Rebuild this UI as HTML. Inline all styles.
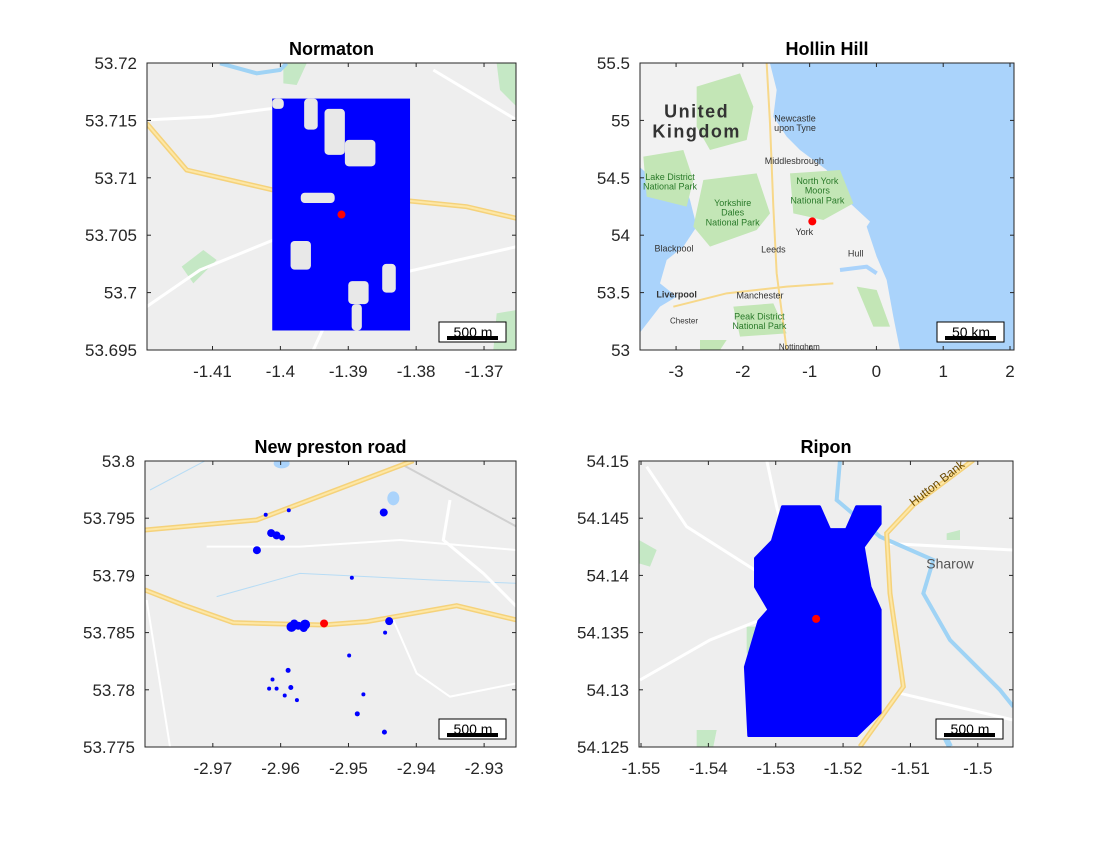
<!DOCTYPE html>
<html><head><meta charset="utf-8"><style>
body{margin:0;background:#fff;}
svg text{font-family:"Liberation Sans",sans-serif;}
</style></head><body>
<svg id="fig" width="1120" height="840" viewBox="0 0 1120 840" xmlns="http://www.w3.org/2000/svg">
<rect width="1120" height="840" fill="#fff"/>
</svg>
<script>
// ---------- data ----------
const normatonXTicks=[-1.41,-1.40,-1.39,-1.38,-1.37];
const normatonXLabels=["-1.41","-1.4","-1.39","-1.38","-1.37"];
const normatonYTicks=[53.695,53.70,53.705,53.71,53.715,53.72];
const normatonYLabels=["53.695","53.7","53.705","53.71","53.715","53.72"];
const normatonArea=[-1.4012,-1.3809,53.6967,53.7169];
const normatonHoles=[[-1.3935,-1.3905,53.7120,53.7160],[-1.3905,-1.3860,53.7110,53.7133],[-1.3985,-1.3955,53.7020,53.7045],[-1.3900,-1.3870,53.6990,53.7010],[-1.3895,-1.3880,53.6967,53.6990],[-1.3850,-1.3830,53.7000,53.7025],[-1.3970,-1.3920,53.7078,53.7087],[-1.3965,-1.3945,53.7142,53.7169],[-1.4012,-1.3995,53.7160,53.7169]];
const normatonSite=[-1.391,53.7068];

const hollinXTicks=[-3,-2,-1,0,1,2];
const hollinXLabels=["-3","-2","-1","0","1","2"];
const hollinYTicks=[53,53.5,54,54.5,55,55.5];
const hollinYLabels=["53","53.5","54","54.5","55","55.5"];
const hollinSite=[-0.96,54.12];

const prestonXTicks=[-2.97,-2.96,-2.95,-2.94,-2.93];
const prestonXLabels=["-2.97","-2.96","-2.95","-2.94","-2.93"];
const prestonYTicks=[53.775,53.78,53.785,53.79,53.795,53.80];
const prestonYLabels=["53.775","53.78","53.785","53.79","53.795","53.8"];
const prestonLon=[-2.9584,-2.9564,-2.9606,-2.9635,-2.9448,-2.9622,-2.9588,-2.9440,-2.9495,-2.9589,-2.9612,-2.9617,-2.9606,-2.9585,-2.9594,-2.9576,-2.9499,-2.9478,-2.9487,-2.9447,-2.9446,-2.9614,-2.9574,-2.9598,-2.9580,-2.9566];
const prestonLat=[53.7855,53.7857,53.7935,53.7922,53.7955,53.7953,53.7957,53.7860,53.7898,53.7817,53.7809,53.7801,53.7801,53.7802,53.7795,53.7791,53.7830,53.7796,53.7779,53.7763,53.7850,53.7937,53.7856,53.7933,53.7858,53.7854];
const prestonSize=[5,5,4,4,4,2,2,4,2,2.5,2,2,2,2.5,2,2,2,2,2.5,2.5,2,4,4,3,4,4];
const prestonSite=[-2.9536,53.7858];

const riponXTicks=[-1.55,-1.54,-1.53,-1.52,-1.51,-1.50];
const riponXLabels=["-1.55","-1.54","-1.53","-1.52","-1.51","-1.5"];
const riponYTicks=[54.125,54.13,54.135,54.14,54.145,54.15];
const riponYLabels=["54.125","54.13","54.135","54.14","54.145","54.15"];
const riponLon=[-1.5340,-1.5180,-1.5145,-1.5145,-1.5160,-1.5170,-1.5145,-1.5145,-1.5180,-1.5195,-1.5220,-1.5235,-1.5290,-1.5305,-1.5330,-1.5330,-1.5310,-1.5325,-1.5345,-1.5340];
const riponLat=[54.1260,54.1260,54.1280,54.1370,54.1390,54.1425,54.1445,54.1460,54.1460,54.1440,54.1440,54.1460,54.1460,54.1430,54.1415,54.1390,54.1370,54.1360,54.1320,54.1260];
const riponSite=[-1.5240,54.1362];

// ---------- helpers ----------
const NS="http://www.w3.org/2000/svg";
const fig=document.getElementById('fig');
function mk(tag,attrs,parent){const e=document.createElementNS(NS,tag);for(const k in attrs)e.setAttribute(k,attrs[k]);(parent||fig).appendChild(e);return e;}
function axis(px0,px1,py0,py1,x0,x1,y0,y1){return {X:v=>px0+(v-x0)/(x1-x0)*(px1-px0),Y:v=>py1-(v-y0)/(y1-y0)*(py1-py0),px0,px1,py0,py1};}
function poly(g,pts,attrs){return mk('polyline',Object.assign({points:pts.map(p=>p.join(',')).join(' '),fill:'none'},attrs),g);}
function zp(ox,oy,arr){return arr.map(p=>[ox+p[0]/3,oy+p[1]/3]);}

function frame(g,A,xt,xl,yt,yl,title,scaleText){
  const fr=mk('rect',{x:A.px0,y:A.py0,width:A.px1-A.px0,height:A.py1-A.py0,fill:'none',stroke:'#262626','stroke-width':1},g);
  
  xt.forEach((v,i)=>{const x=A.X(v);
    mk('line',{x1:x,x2:x,y1:A.py1,y2:A.py1-4,stroke:'#262626'},g);
    mk('line',{x1:x,x2:x,y1:A.py0,y2:A.py0+4,stroke:'#262626'},g);
    const t=mk('text',{x:x,y:A.py1+27,'font-size':17,'text-anchor':'middle',fill:'#262626'},g);t.textContent=xl[i];
    });
  yt.forEach((v,i)=>{const y=A.Y(v);
    mk('line',{x1:A.px0,x2:A.px0+4,y1:y,y2:y,stroke:'#262626'},g);
    mk('line',{x1:A.px1,x2:A.px1-4,y1:y,y2:y,stroke:'#262626'},g);
    const t=mk('text',{x:A.px0-10,y:y+6,'font-size':17,'text-anchor':'end',fill:'#262626'},g);t.textContent=yl[i];
    });
  const tt=mk('text',{x:(A.px0+A.px1)/2,y:A.py0-8,'font-size':18,'font-weight':'bold','text-anchor':'middle',fill:'#000'},g);tt.textContent=title;
  
  const sb=mk('g',{},g);
  mk('rect',{x:A.px1-77,y:A.py1-28,width:67,height:20,fill:'#fff',stroke:'#000'},sb);
  mk('rect',{x:A.px1-69,y:A.py1-14,width:51,height:4,fill:'#000'},sb);
  const st=mk('text',{x:A.px1-43,y:A.py1-13,'font-size':14,'text-anchor':'middle',fill:'#000','text-decoration':'underline'},sb);st.textContent=scaleText;
}
function clip(id,A){const d=mk('defs',{});const c=mk('clipPath',{id:id},d);mk('rect',{x:A.px0,y:A.py0,width:A.px1-A.px0,height:A.py1-A.py0},c);}
function site(g,A,s){const c=mk('circle',{cx:A.X(s[0]),cy:A.Y(s[1]),r:4,fill:'#f00'},g);}

// ---------- Normaton ----------
{const A=axis(147,516,63,350,-1.41965,-1.36529,53.695,53.72);clip('c1',A);
 const g=mk('g',{'clip-path':'url(#c1)'});
 mk('rect',{x:147,y:63,width:369,height:287,fill:'#eeeeee'},g);
 mk('polygon',{points:zp(100,40,[[550,70],[620,70],[590,135],[550,130]]).join(' '),fill:'#c5e8c5'},g);
 mk('polygon',{points:zp(100,40,[[245,680],[310,630],[350,660],[280,730]]).join(' '),fill:'#c5e8c5'},g);
 mk('polygon',{points:zp(100,40,[[1190,70],[1250,70],[1250,200],[1200,150]]).join(' '),fill:'#c5e8c5'},g);
 mk('polygon',{points:zp(100,40,[[1190,820],[1250,810],[1250,930],[1180,930]]).join(' '),fill:'#c5e8c5'},g);
 poly(g,zp(100,40,[[360,70],[470,100],[540,90],[560,70]]),{stroke:'#9fd3f5','stroke-width':4});
 poly(g,zp(100,40,[[140,240],[330,230],[480,210],[560,200],[640,210]]),{stroke:'#fff','stroke-width':3});
 poly(g,zp(100,40,[[140,800],[300,690],[520,600],[650,560]]),{stroke:'#fff','stroke-width':3});
 poly(g,zp(100,40,[[640,930],[700,800],[900,700],[1250,620]]),{stroke:'#fff','stroke-width':3});
 poly(g,zp(100,40,[[1000,90],[1250,240]]),{stroke:'#fff','stroke-width':3});
 poly(g,zp(100,40,[[140,250],[260,390],[520,450],[900,480],[1100,500],[1250,535]]),{stroke:'#f5d27a','stroke-width':5});
 poly(g,zp(100,40,[[140,250],[260,390],[520,450],[900,480],[1100,500],[1250,535]]),{stroke:'#fde7a6','stroke-width':2});
 const a=normatonArea;
 const blue=mk('rect',{x:A.X(a[0]),y:A.Y(a[3]),width:A.X(a[1])-A.X(a[0]),height:A.Y(a[2])-A.Y(a[3]),fill:'#0000ff'},g);
 
 normatonHoles.forEach(h=>{const r=mk('rect',{x:A.X(h[0]),y:A.Y(h[3]),width:A.X(h[1])-A.X(h[0]),height:A.Y(h[2])-A.Y(h[3]),rx:4,fill:'#e8e8e8'},g);
  });
 site(g,A,normatonSite);
 const f=mk('g',{});frame(f,A,normatonXTicks,normatonXLabels,normatonYTicks,normatonYLabels,'Normaton','500 m');}

// ---------- Hollin Hill ----------
{const A=axis(640,1014,63,350,-3.54,2.06,53,55.5);clip('c2',A);
 const g=mk('g',{'clip-path':'url(#c2)'});
 mk('rect',{x:640,y:63,width:374,height:287,fill:'#aad3fb'},g);
 const land=[[118,70],[510,70],[530,150],[520,230],[560,290],[600,330],[680,390],[740,480],[810,545],[800,560],[830,650],[860,720],[880,830],[900,930],[118,930],[118,880],[180,800],[230,770],[180,730],[200,660],[250,620],[290,560],[270,480],[250,420],[140,400],[118,380]];
 const ld=mk('polygon',{points:zp(600,40,land).join(' '),fill:'#f2f2f2'},g);
 [[[290,140],[420,100],[460,200],[440,300],[330,330],[290,260]],[[130,350],[250,330],[280,420],[260,500],[140,470]],[[310,420],[470,400],[510,520],[470,570],[330,620],[280,560]],[[570,400],[720,390],[760,490],[670,540],[580,520]],[[400,800],[520,790],[560,880],[420,890]],[[770,740],[830,750],[870,860],[820,860]],[[300,900],[380,900],[360,930],[300,930]]].forEach(p=>mk('polygon',{points:zp(600,40,p).join(' '),fill:'#c3e6b6'},g));
 poly(g,zp(600,40,[[500,70],[510,250],[520,500],[530,700],[560,930]]),{stroke:'#f7d88a','stroke-width':2});
 poly(g,zp(600,40,[[220,800],[380,760],[560,740],[700,730]]),{stroke:'#f7d88a','stroke-width':2});
 poly(g,zp(600,40,[[720,690],[800,680],[830,700]]),{stroke:'#aad3fb','stroke-width':4});
 const lbl=[["United",290,232,18,'bold'],["Kingdom",290,293,18,'bold'],["Newcastle",585,245,9],["upon Tyne",585,273,9],["Middlesbrough",583,372,9],["North York",652,432,9,null,'#2a7a2a'],["Moors",652,460,9,null,'#2a7a2a'],["National Park",652,490,9,null,'#2a7a2a'],["Yorkshire",398,498,9,null,'#2a7a2a'],["Dales",398,527,9,null,'#2a7a2a'],["National Park",398,556,9,null,'#2a7a2a'],["Lake District",210,420,9,null,'#2a7a2a'],["National Park",210,449,9,null,'#2a7a2a'],["York",613,585,9],["Leeds",520,638,9],["Blackpool",222,635,9],["Hull",767,650,9],["Liverpool",230,773,9,'bold'],["Manchester",480,775,9],["Chester",252,850,8],["Peak District",478,838,9,null,'#2a7a2a'],["National Park",478,867,9,null,'#2a7a2a'],["Nottingham",598,928,8]];
 lbl.forEach(l=>{const t=mk('text',{x:600+l[1]/3,y:40+l[2]/3,'font-size':l[3],'text-anchor':'middle','font-weight':l[4]||'normal',fill:l[5]||'#333','letter-spacing':l[3]>12?1.5:0},g);t.textContent=l[0];});
 site(g,A,hollinSite);
 const f=mk('g',{});frame(f,A,hollinXTicks,hollinXLabels,hollinYTicks,hollinYLabels,'Hollin Hill','50 km');}

// ---------- New preston road ----------
{const A=axis(145,516,461,747,-2.98,-2.9253,53.775,53.80);clip('c3',A);
 const g=mk('g',{'clip-path':'url(#c3)'});
 mk('rect',{x:145,y:461,width:371,height:286,fill:'#eeeeee'},g);
 poly(g,zp(100,440,[[150,150],[320,60]]),{stroke:'#b7dcf5','stroke-width':1});
 poly(g,zp(100,440,[[350,470],[600,400],[800,410],[1000,420],[1250,430]]),{stroke:'#b7dcf5','stroke-width':1});
 poly(g,zp(100,440,[[320,320],[600,320],[900,300],[1250,330]]),{stroke:'#fff','stroke-width':2});
 poly(g,zp(100,440,[[1050,180],[1030,300],[1150,400],[1250,500]]),{stroke:'#fff','stroke-width':3});
 poly(g,zp(100,440,[[880,540],[950,700],[1050,770],[1250,730]]),{stroke:'#fff','stroke-width':2});
 poly(g,zp(100,440,[[140,480],[210,920]]),{stroke:'#fff','stroke-width':2});
 poly(g,zp(100,440,[[900,70],[1250,260]]),{stroke:'#d0d0d0','stroke-width':2});
 mk('ellipse',{cx:100+880/3,cy:440+175/3,rx:6,ry:7,fill:'#aad3fb'},g);
 mk('ellipse',{cx:100+545/3,cy:440+70/3,rx:8,ry:5,fill:'#aad3fb'},g);
 [[[135,270],[470,240],[940,62]],[[135,450],[250,495],[400,548],[670,555],[800,545],[1070,497],[1250,540]]].forEach(r=>{
   poly(g,zp(100,440,r),{stroke:'#f5d27a','stroke-width':5});poly(g,zp(100,440,r),{stroke:'#fde7a6','stroke-width':2});});
 prestonLon.forEach((v,i)=>{const c=mk('circle',{cx:A.X(v),cy:A.Y(prestonLat[i]),r:prestonSize[i],fill:'#0000ff'},g);
   });
 site(g,A,prestonSite);
 const f=mk('g',{});frame(f,A,prestonXTicks,prestonXLabels,prestonYTicks,prestonYLabels,'New preston road','500 m');}

// ---------- Ripon ----------
{const A=axis(639,1013,461,747,-1.5503,-1.49477,54.125,54.15);clip('c4',A);
 const g=mk('g',{'clip-path':'url(#c4)'});
 mk('rect',{x:639,y:461,width:374,height:286,fill:'#eeeeee'},g);
 [[[117,300],[170,330],[150,380],[117,370]],[[440,560],[480,560],[480,640],[440,640]],[[290,870],[350,870],[340,920],[290,920]],[[1040,280],[1080,270],[1080,300],[1040,300]]].forEach(p=>mk('polygon',{points:zp(600,440,p).join(' '),fill:'#c5e8c5'},g));
 poly(g,zp(600,440,[[140,80],[260,260],[480,400],[560,460]]),{stroke:'#fff','stroke-width':3});
 poly(g,zp(600,440,[[120,720],[330,600],[480,540]]),{stroke:'#fff','stroke-width':3});
 poly(g,zp(600,440,[[500,60],[530,200],[580,400]]),{stroke:'#fff','stroke-width':3});
 poly(g,zp(600,440,[[860,310],[1240,330]]),{stroke:'#fff','stroke-width':3});
 poly(g,zp(600,440,[[900,760],[1240,840]]),{stroke:'#fff','stroke-width':3});
 poly(g,zp(600,440,[[720,60],[710,180],[840,290],[1000,360],[970,460],[1050,600],[1200,750],[1240,800]]),{stroke:'#9fd3f5','stroke-width':4});
 poly(g,zp(600,440,[[1030,880],[1050,920]]),{stroke:'#9fd3f5','stroke-width':6});
 const a61=[[780,920],[910,740],[870,460],[860,280],[940,195],[1120,60]];
 poly(g,zp(600,440,a61),{stroke:'#f5d27a','stroke-width':5});poly(g,zp(600,440,a61),{stroke:'#fde7a6','stroke-width':2});
 const st=mk('text',{x:600+1050/3,y:440+385/3,'font-size':14,'text-anchor':'middle',fill:'#555'},g);st.textContent='Sharow';
 
 const hb=mk('text',{x:0,y:0,'font-size':12,fill:'#6b4a00',transform:'translate('+(600+940/3)+','+(440+200/3)+') rotate(-38)'},g);hb.textContent='Hutton Bank';
 
 const pts=riponLon.map((v,i)=>[A.X(v),A.Y(riponLat[i])]);
 const p=mk('polygon',{points:pts.join(' '),fill:'#0000ff',stroke:'#0000ff','stroke-width':3,'stroke-linejoin':'round'},g);
 
 site(g,A,riponSite);
 const f=mk('g',{});frame(f,A,riponXTicks,riponXLabels,riponYTicks,riponYLabels,'Ripon','500 m');}
</script>
</body></html>
